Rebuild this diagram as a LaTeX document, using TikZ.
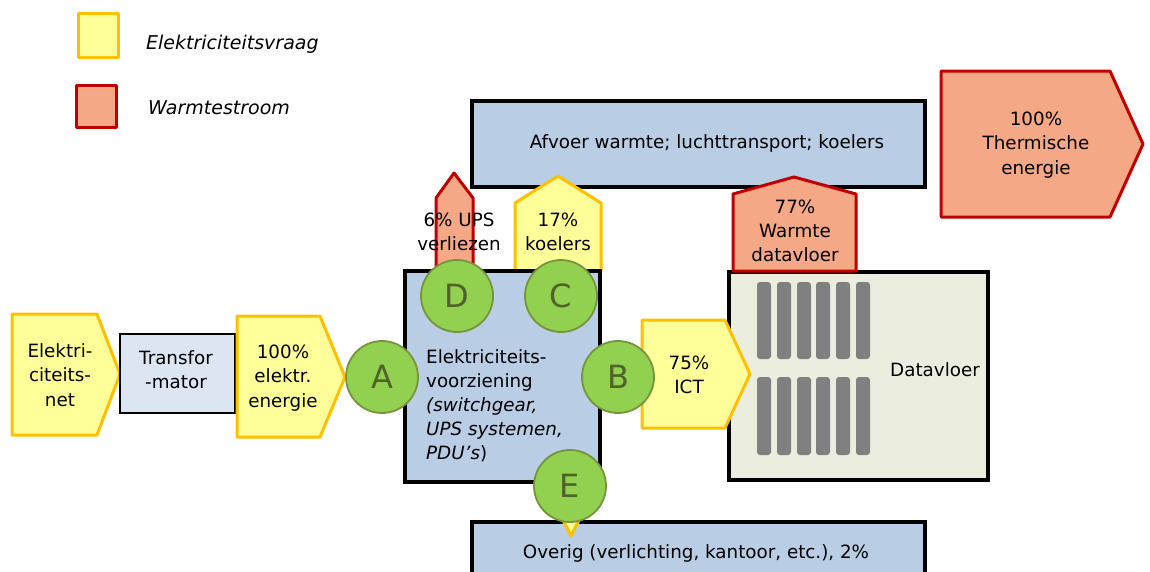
\documentclass[tikz,border=0pt]{standalone}
\usepackage{fontspec}
\setmainfont{DejaVu Sans}
\usepackage{tikz}
\usetikzlibrary{calc}

\definecolor{elecfill}{HTML}{FFFF99}
\definecolor{elecline}{HTML}{FFC000}
\definecolor{warmfill}{HTML}{F4A886}
\definecolor{warmline}{HTML}{C00000}
\definecolor{boxblue}{HTML}{B9CDE5}
\definecolor{trafoblue}{HTML}{DCE6F2}
\definecolor{floorfill}{HTML}{EBEEDF}
\definecolor{lettgreen}{HTML}{92D050}
\definecolor{lettline}{HTML}{77933C}
\definecolor{lettdark}{HTML}{4F6228}
\definecolor{rackgray}{HTML}{808080}

\tikzset{
    yel/.style={fill=elecfill, draw=elecline, line width=3pt, line join=round},
    warm/.style={fill=warmfill, draw=warmline, line width=3pt, line join=round},
    blok/.style={fill=boxblue, draw=black, line width=4pt},
    lbl/.style={align=center, inner sep=0pt, font=\fontsize{18.3}{24.2}\selectfont},
    legtext/.style={anchor=west, inner sep=0pt, font=\fontsize{19}{22}\selectfont\itshape},
    letter/.style={circle, fill=lettgreen, draw=lettline, line width=1.8pt,
        minimum size=72pt, inner sep=0pt, text=lettdark,
        font=\fontsize{32}{32}\selectfont},
    rack/.style={fill=rackgray, rounded corners=3pt}
}

\begin{document}
\begin{tikzpicture}[x=1pt, y=-1pt]

    \useasboundingbox (0,0) rectangle (1150,571);

    % Legend
    \draw[yel] (78,13) rectangle (118,57);
    \node[legtext] (legvraag) at (146,44) {Elektriciteitsvraag};
    \draw[warm] (76,85) rectangle (116,127);
    \node[legtext] (legwarm) at (148,108) {Warmtestroom};

    % Heat removal box and thermal output
    \draw[blok] (472,101) rectangle (925,187);
    \node[lbl] (afvoer) at (707,143) {Afvoer warmte; luchttransport; koelers};
    \draw[warm] (941,71) -- (1110,71) -- (1143,144) -- (1110,217) -- (941,217) -- cycle;
    \node[lbl] (thermisch) at (1036,145) {100\%\\Thermische\\energie};

    % Arrows leaving the power supply upwards
    \draw[warm] (436,272) -- (436,198) -- (454,173) -- (473,198) -- (473,272) -- cycle;
    \draw[yel] (515,271) -- (515,203) -- (558,176) -- (601,203) -- (601,271) -- cycle;

    % Power supply box
    \draw[blok] (405,271) rectangle (600,482);
    \node[lbl, anchor=north west, align=left] (voorziening) at (426,349)
        {Elektriciteits-\\voorziening\\\textit{(switchgear,}\\\textit{UPS systemen,}\\\textit{PDU's})};
    \node[lbl] (upsverlies) at (459,232) {6\% UPS\\verliezen};
    \node[lbl] (koelers) at (558,232) {17\%\\koelers};

    % Supply chain on the left
    \draw[yel] (12,314) -- (97,314) -- (120,374) -- (97,435) -- (12,435) -- cycle;
    \node[lbl] (netlbl) at (60,375) {Elektri-\\citeits-\\net};
    \draw[fill=trafoblue, line width=1.4pt] (120,334) rectangle (235,413);
    \node[lbl] (trafo) at (176,370) {Transfor\\-mator};
    \draw[yel] (237,316) -- (320,316) -- (345,377) -- (320,437) -- (237,437) -- cycle;
    \node[lbl] (elektr) at (283,378) {100\%\\elektr.\\energie};

    % Data floor with racks
    \draw[blok, fill=floorfill] (729,272) rectangle (988,480);
    \foreach \x in {757,777,797,816,836,856} {
        \fill[rack] (\x,282) rectangle (\x+14,359);
        \fill[rack] (\x,377) rectangle (\x+14,455);
    }
    \node[lbl] (datavloer) at (935,370) {Datavloer};
    \draw[warm] (733,271) -- (733,194) -- (794,177) -- (856,194) -- (856,271) -- cycle;
    \node[lbl] (warmtevloer) at (795,231) {77\%\\Warmte\\datavloer};
    \draw[yel] (642,320) -- (725,320) -- (750,374) -- (725,428) -- (642,428) -- cycle;
    \node[lbl] (ict) at (689,375) {75\%\\ICT};

    % Other consumption
    \draw[blok] (472,522) rectangle (925,600);
    \node[lbl] (overig) at (696,553) {Overig (verlichting, kantoor, etc.), 2\%};
    \draw[yel] (553,500) -- (589,500) -- (571,536) -- cycle;

    % Measuring points
    \node[letter] (pA) at (382,377) {A};
    \node[letter] (pB) at (618,377) {B};
    \node[letter] (pC) at (561,296) {C};
    \node[letter] (pD) at (457,296) {D};
    \node[letter] (pE) at (570,486) {E};

\end{tikzpicture}
\end{document}
